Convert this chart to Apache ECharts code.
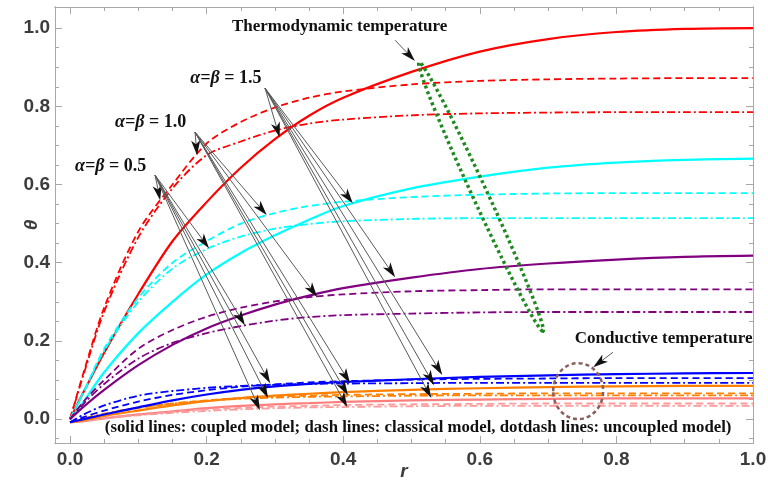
<!DOCTYPE html>
<html><head><meta charset="utf-8">
<script src="https://cdn.jsdelivr.net/npm/echarts@6/dist/echarts.min.js"></script>
<style>html,body{margin:0;padding:0;background:#fff}#c{width:768px;height:486px}</style>
</head><body><div id="c"></div>
<script>
// ---- data ----
const rValues = [0, 0.02, 0.05, 0.1, 0.15, 0.2, 0.25, 0.3, 0.35, 0.4, 0.5, 0.6, 0.7, 0.8, 0.9, 1.0];

const redSolid    = [0, 0.07, 0.17, 0.32, 0.455, 0.555, 0.643, 0.716, 0.776, 0.822, 0.888, 0.94, 0.972, 0.99, 0.998, 1.0];
const redDash     = [0, 0.12, 0.285, 0.48, 0.6, 0.705, 0.76, 0.797, 0.822, 0.838, 0.856, 0.865, 0.869, 0.871, 0.872, 0.872];
const redDotDash  = [0, 0.115, 0.275, 0.465, 0.59, 0.675, 0.71, 0.738, 0.756, 0.766, 0.777, 0.782, 0.784, 0.785, 0.785, 0.785];

const cyanSolid   = [0, 0.045, 0.12, 0.22, 0.3, 0.37, 0.425, 0.47, 0.51, 0.545, 0.59, 0.62, 0.643, 0.656, 0.663, 0.666];
const cyanDash    = [0, 0.07, 0.18, 0.31, 0.4, 0.455, 0.5, 0.527, 0.545, 0.556, 0.568, 0.574, 0.577, 0.578, 0.578, 0.578];
const cyanDotDash = [0, 0.068, 0.175, 0.3, 0.385, 0.435, 0.467, 0.487, 0.499, 0.506, 0.512, 0.514, 0.514, 0.514, 0.514, 0.514];

const purpleSolid   = [0, 0.032, 0.075, 0.138, 0.19, 0.232, 0.265, 0.293, 0.316, 0.335, 0.362, 0.384, 0.398, 0.408, 0.415, 0.418];
const purpleDash    = [0, 0.045, 0.1, 0.18, 0.228, 0.262, 0.285, 0.301, 0.312, 0.319, 0.327, 0.33, 0.332, 0.332, 0.332, 0.332];
const purpleDotDash = [0, 0.04, 0.09, 0.155, 0.195, 0.22, 0.238, 0.252, 0.261, 0.266, 0.27, 0.273, 0.274, 0.274, 0.274, 0.274];

const blueSolid   = [-0.008, 0.0, 0.012, 0.03, 0.048, 0.063, 0.075, 0.084, 0.09, 0.095, 0.102, 0.108, 0.112, 0.115, 0.117, 0.118];
const blueDash    = [-0.008, 0.005, 0.022, 0.045, 0.062, 0.074, 0.083, 0.089, 0.094, 0.097, 0.101, 0.103, 0.104, 0.105, 0.105, 0.105];
const blueDotDash = [-0.008, 0.012, 0.035, 0.06, 0.072, 0.08, 0.085, 0.088, 0.09, 0.091, 0.092, 0.093, 0.093, 0.093, 0.093, 0.093];

const orangeSolid   = [-0.008, -0.003, 0.008, 0.022, 0.035, 0.046, 0.054, 0.06, 0.065, 0.069, 0.075, 0.079, 0.082, 0.084, 0.085, 0.085];
const orangeDash    = [-0.008, 0.0, 0.012, 0.028, 0.04, 0.048, 0.054, 0.058, 0.06, 0.062, 0.064, 0.065, 0.066, 0.066, 0.066, 0.066];
const orangeDotDash = [-0.008, 0.002, 0.014, 0.03, 0.04, 0.047, 0.052, 0.055, 0.057, 0.058, 0.06, 0.061, 0.061, 0.061, 0.061, 0.061];

const pinkSolid   = [-0.008, -0.005, 0.002, 0.012, 0.02, 0.028, 0.034, 0.038, 0.041, 0.044, 0.048, 0.05, 0.052, 0.053, 0.053, 0.053];
const pinkDash    = [-0.008, -0.004, 0.003, 0.012, 0.019, 0.025, 0.029, 0.032, 0.034, 0.036, 0.038, 0.039, 0.04, 0.04, 0.04, 0.04];
const pinkDotDash = [-0.008, -0.004, 0.002, 0.01, 0.016, 0.021, 0.025, 0.028, 0.03, 0.031, 0.033, 0.034, 0.034, 0.034, 0.034, 0.034];

const xTickLabels = [0, 0.2, 0.4, 0.6, 0.8, 1.0];
const yTickLabels = [0, 0.2, 0.4, 0.6, 0.8, 1.0];
const xMinorTicks = [0.05, 0.1, 0.15, 0.25, 0.3, 0.35, 0.45, 0.5, 0.55, 0.65, 0.7, 0.75, 0.85, 0.9, 0.95];
const yMinorTicks = [-0.05, 0.05, 0.1, 0.15, 0.25, 0.3, 0.35, 0.45, 0.5, 0.55, 0.65, 0.7, 0.75, 0.85, 0.9, 0.95];

// annotation arrows: [r0, theta0, r1, theta1]
const arrowsAlpha05 = [
  [0.1245, 0.624, 0.132, 0.560], [0.1245, 0.624, 0.2035, 0.437], [0.1245, 0.624, 0.256, 0.240],
  [0.1245, 0.624, 0.293, 0.092], [0.1245, 0.624, 0.290, 0.054], [0.1245, 0.624, 0.278, 0.023]
];
const arrowsAlpha10 = [
  [0.183, 0.734, 0.186, 0.675], [0.183, 0.734, 0.288, 0.522], [0.183, 0.734, 0.362, 0.312],
  [0.183, 0.734, 0.410, 0.092], [0.183, 0.734, 0.407, 0.061], [0.183, 0.734, 0.406, 0.031]
];
const arrowsAlpha15 = [
  [0.2855, 0.8465, 0.307, 0.721], [0.2855, 0.8465, 0.414, 0.552], [0.2855, 0.8465, 0.476, 0.363],
  [0.2855, 0.8465, 0.545, 0.113], [0.2855, 0.8465, 0.533, 0.087], [0.2855, 0.8465, 0.529, 0.054]
];
const arrowsCallout = [
  [0.476, 0.969, 0.505, 0.916],
  [0.795, 0.171, 0.766, 0.133]
];
</script>
<script>
const chart = echarts.init(document.getElementById('c'), null, {renderer: 'canvas'});
const FRAME = '#a8a8a8';
const serif = '"Liberation Serif", "Times New Roman", serif';
const sans = '"Liberation Sans", Arial, sans-serif';
const toPairs = ys => rValues.map((r, i) => [r, ys[i]]);
const DASH = [7, 4];
const DOTDASH = [8, 3, 2, 3];

function lineSeries(name, ys, color, type, width) {
  return {
    name, type: 'line', data: toPairs(ys), showSymbol: false, smooth: 0.3,
    xAxisIndex: 0, yAxisIndex: 0, silent: true,
    lineStyle: {color, width: width || 2, type: type}
  };
}

function renderArrow(params, api) {
  const p0 = api.coord([api.value(0), api.value(1)]);
  const p1 = api.coord([api.value(2), api.value(3)]);
  const dx = p1[0] - p0[0], dy = p1[1] - p0[1];
  const L = Math.hypot(dx, dy) || 1;
  const ux = dx / L, uy = dy / L, nx = -uy, ny = ux;
  const hl = 15, hw = 4.6, notch = 4;
  const base = [p1[0] - ux * hl, p1[1] - uy * hl];
  const inner = [p1[0] - ux * (hl - notch), p1[1] - uy * (hl - notch)];
  return {
    type: 'group', children: [
      {type: 'line', shape: {x1: p0[0], y1: p0[1], x2: inner[0], y2: inner[1]}, style: {stroke: '#5a5a5a', lineWidth: 1}},
      {type: 'polygon', shape: {points: [p1, [base[0] + nx * hw, base[1] + ny * hw], inner, [base[0] - nx * hw, base[1] - ny * hw]]}, style: {fill: '#111'}}
    ]
  };
}
function arrowSeries(data) {
  return {type: 'custom', renderItem: renderArrow, data, xAxisIndex: 0, yAxisIndex: 0, silent: true,
    encode: {x: [0, 2], y: [1, 3]}, clip: false, z: 5};
}

const tickLabelStyle = {fontSize: 19, fontFamily: sans, fontWeight: 'bold', color: '#3c3c3c'};
const fmt = v => Number(v).toFixed(1);

function xAx(grid, pos, ticks, len, labels) {
  return {
    type: 'value', gridIndex: grid, position: pos, min: -0.022, max: 1.0,
    axisLine: {show: true, onZero: false, lineStyle: {color: FRAME, width: 1}},
    axisTick: {show: true, inside: true, length: len, customValues: ticks, lineStyle: {color: FRAME, width: 1}},
    axisLabel: labels ? Object.assign({show: true, customValues: xTickLabels, formatter: fmt, margin: 7}, tickLabelStyle) : {show: false},
    splitLine: {show: false},
    name: labels ? 'r' : '', nameLocation: 'middle', nameGap: 19, nameMoveOverlap: false,
    nameTextStyle: {fontSize: 19, fontStyle: 'italic', fontWeight: 'bold', color: '#3c3c3c', fontFamily: sans}
  };
}
function yAx(grid, pos, ticks, len, labels) {
  return {
    type: 'value', gridIndex: grid, position: pos, min: -0.061, max: 1.054,
    axisLine: {show: true, onZero: false, lineStyle: {color: FRAME, width: 1}},
    axisTick: {show: true, inside: true, length: len, customValues: ticks, lineStyle: {color: FRAME, width: 1}},
    axisLabel: labels ? Object.assign({show: true, customValues: yTickLabels, formatter: fmt, margin: 5}, tickLabelStyle) : {show: false},
    splitLine: {show: false},
    name: labels ? 'θ' : '', nameLocation: 'middle', nameGap: 14, nameRotate: 90, nameMoveOverlap: false,
    nameTextStyle: {fontSize: 19, fontStyle: 'italic', fontWeight: 'bold', color: '#3c3c3c', fontFamily: sans}
  };
}

const gridBox = {left: 55, right: 15, top: 7, bottom: 43, containLabel: false, outerBoundsMode: 'none'};
const option = {
  animation: false,
  backgroundColor: '#ffffff',
  grid: [Object.assign({}, gridBox), Object.assign({}, gridBox)],
  xAxis: [
    xAx(0, 'bottom', xTickLabels, 7, true),
    xAx(0, 'top', xTickLabels, 7, false),
    xAx(1, 'bottom', xMinorTicks, 4, false),
    xAx(1, 'top', xMinorTicks, 4, false)
  ],
  yAxis: [
    yAx(0, 'left', yTickLabels, 7, true),
    yAx(0, 'right', yTickLabels, 7, false),
    yAx(1, 'left', yMinorTicks, 4, false),
    yAx(1, 'right', yMinorTicks, 4, false)
  ],
  series: [
    lineSeries('red solid', redSolid, '#ff0000', 'solid', 2.2),
    lineSeries('red dash', redDash, '#ff0000', DASH, 1.8),
    lineSeries('red dotdash', redDotDash, '#ff0000', DOTDASH, 1.8),
    lineSeries('cyan solid', cyanSolid, '#00ffff', 'solid', 2.2),
    lineSeries('cyan dash', cyanDash, '#00ffff', DASH, 1.8),
    lineSeries('cyan dotdash', cyanDotDash, '#00ffff', DOTDASH, 1.8),
    lineSeries('purple solid', purpleSolid, '#800080', 'solid', 2.2),
    lineSeries('purple dash', purpleDash, '#800080', DASH, 1.8),
    lineSeries('purple dotdash', purpleDotDash, '#800080', DOTDASH, 1.8),
    lineSeries('pink solid', pinkSolid, '#ff7f7f', 'solid', 2.2),
    lineSeries('pink dash', pinkDash, '#ff9a9a', DASH, 1.8),
    lineSeries('pink dotdash', pinkDotDash, '#ff9a9a', DOTDASH, 1.8),
    lineSeries('orange solid', orangeSolid, '#ff8000', 'solid', 2.2),
    lineSeries('orange dash', orangeDash, '#ff8000', DASH, 1.8),
    lineSeries('orange dotdash', orangeDotDash, '#ff8000', DOTDASH, 1.8),
    lineSeries('blue solid', blueSolid, '#0000ff', 'solid', 2.2),
    lineSeries('blue dash', blueDash, '#0000ff', DASH, 1.8),
    lineSeries('blue dotdash', blueDotDash, '#0000ff', DOTDASH, 1.8),
    arrowSeries(arrowsAlpha05),
    arrowSeries(arrowsAlpha10),
    arrowSeries(arrowsAlpha15),
    arrowSeries(arrowsCallout)
  ]
};
chart.setOption(option);

// ---- annotations placed in data coordinates ----
const px = p => chart.convertToPixel({gridIndex: 0}, p);
const graphics = [];
function addText(pos, text, size, rich) {
  const p = px(pos);
  const style = {x: p[0], y: p[1], text, font: 'bold ' + size + 'px ' + serif, fill: '#111', verticalAlign: 'middle', align: 'left'};
  if (rich) style.rich = rich;
  graphics.push({type: 'text', z: 20, style});
}
const greekRich = {
  g: {font: 'italic bold 18px ' + serif, fill: '#111'},
  n: {font: 'bold 18px ' + serif, fill: '#111'}
};
addText([0.237, 1.003], 'Thermodynamic temperature', 17);
addText([0.739, 0.205], 'Conductive temperature', 17);
addText([0.176, 0.872], '{g|α=β}{n| = 1.5}', 18, greekRich);
addText([0.066, 0.760], '{g|α=β}{n| = 1.0}', 18, greekRich);
addText([0.0073, 0.647], '{g|α=β}{n| = 0.5}', 18, greekRich);
addText([0.051, -0.023], '(solid lines: coupled model; dash lines: classical model, dotdash lines: uncoupled model)', 16.8);

// elongated green ellipse between two tips (data coords), half width in px
function ellipsePoints(tipA, tipB, halfW) {
  const a = px(tipA), b = px(tipB);
  const cx = (a[0] + b[0]) / 2, cy = (a[1] + b[1]) / 2;
  const dx = b[0] - a[0], dy = b[1] - a[1];
  const L = Math.hypot(dx, dy), ux = dx / L, uy = dy / L, nx = -uy, ny = ux;
  const pts = [];
  for (let i = 0; i < 120; i++) {
    const t = i / 120 * Math.PI * 2;
    const c = Math.cos(t) * L / 2, s = Math.sin(t) * halfW;
    pts.push([cx + ux * c + nx * s, cy + uy * c + ny * s]);
  }
  return pts;
}
graphics.push({type: 'polygon', z: 15, shape: {points: ellipsePoints([0.511, 0.913], [0.6925, 0.225], 7.5)},
  style: {fill: 'none', stroke: '#1f8a1f', lineWidth: 3.5, lineDash: [3, 3]}});
const cc = px([0.744, 0.0716]);
graphics.push({type: 'ellipse', z: 15, shape: {cx: cc[0], cy: cc[1], rx: 25, ry: 28},
  style: {fill: 'none', stroke: '#8b5e5e', lineWidth: 2.5, lineDash: [4, 3]}});

chart.setOption({graphic: graphics});
</script>
</body></html>
